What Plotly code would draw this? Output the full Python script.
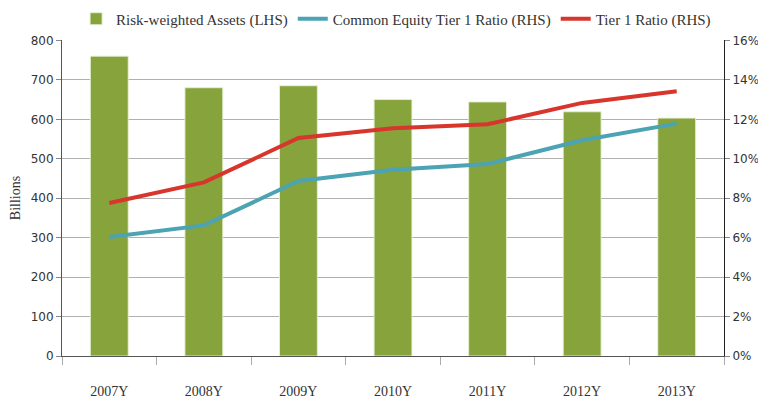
import plotly.graph_objects as go

years = ["2007Y", "2008Y", "2009Y", "2010Y", "2011Y", "2012Y", "2013Y"]
rwa = [760, 680, 685, 650, 644, 619, 603]
cet1 = [6.03, 6.62, 8.87, 9.44, 9.73, 10.94, 11.78]
tier1 = [7.76, 8.8, 11.05, 11.55, 11.75, 12.83, 13.42]
left_ticks = [0, 100, 200, 300, 400, 500, 600, 700, 800]
right_ticks = [0, 2, 4, 6, 8, 10, 12, 14, 16]

green = "#86A33C"
teal = "#4BA3B3"
red = "#D8352C"
serif = "Liberation Serif"
sans = "DejaVu Sans"

fig = go.Figure()
fig.add_trace(go.Bar(
    x=years, y=rwa, name="Risk-weighted Assets (LHS)",
    marker=dict(color=green, line=dict(color="rgba(230,240,210,0.9)", width=1)),
    width=0.4, yaxis="y",
))
fig.add_trace(go.Scatter(
    x=years, y=cet1, name="Common Equity Tier 1 Ratio (RHS)", mode="lines",
    line=dict(color=teal, width=4), yaxis="y2",
))
fig.add_trace(go.Scatter(
    x=years, y=tier1, name="Tier 1 Ratio (RHS)", mode="lines",
    line=dict(color=red, width=4), yaxis="y2",
))

# page body adds an 8px margin, so the figure is sized to fit the window
fig.update_layout(
    width=758, height=392,
    margin=dict(l=54, r=42, t=32, b=44),
    paper_bgcolor="white", plot_bgcolor="white",
    showlegend=True,
    legend=dict(orientation="h", x=0.512, xanchor="center", xref="container",
                y=0.972, yanchor="middle", yref="container",
                font=dict(family=serif, size=15, color="#333"),
                traceorder="normal", itemwidth=30, bgcolor="rgba(0,0,0,0)"),
    xaxis=dict(
        type="category", showline=True, linecolor="#555", linewidth=1,
        ticks="outside", tickson="boundaries", ticklen=8, tickcolor="#aaa",
        tickfont=dict(family=serif, size=14, color="#333"),
        ticklabelstandoff=22, showgrid=False, automargin=False,
    ),
    yaxis=dict(
        range=[0, 801], tickvals=left_ticks,
        showline=True, linecolor="#555", linewidth=1,
        ticks="outside", ticklen=5, tickcolor="#888",
        gridcolor="#b0b0b0", gridwidth=1,
        tickfont=dict(family=sans, size=12, color="#333"),
        title=dict(text="Billions", font=dict(family=serif, size=14, color="#333"), standoff=14),
        zeroline=False, automargin=False,
    ),
    yaxis2=dict(
        range=[0, 16.02], tickvals=right_ticks, ticktext=[f"{v}%" for v in right_ticks],
        overlaying="y", side="right",
        showline=True, linecolor="#222", linewidth=1, ticks="outside", ticklen=5,
        tickcolor="#888", showgrid=False, zeroline=False,
        tickfont=dict(family=sans, size=12, color="#333"), automargin=False,
    ),
)

fig.write_html("out.html")
